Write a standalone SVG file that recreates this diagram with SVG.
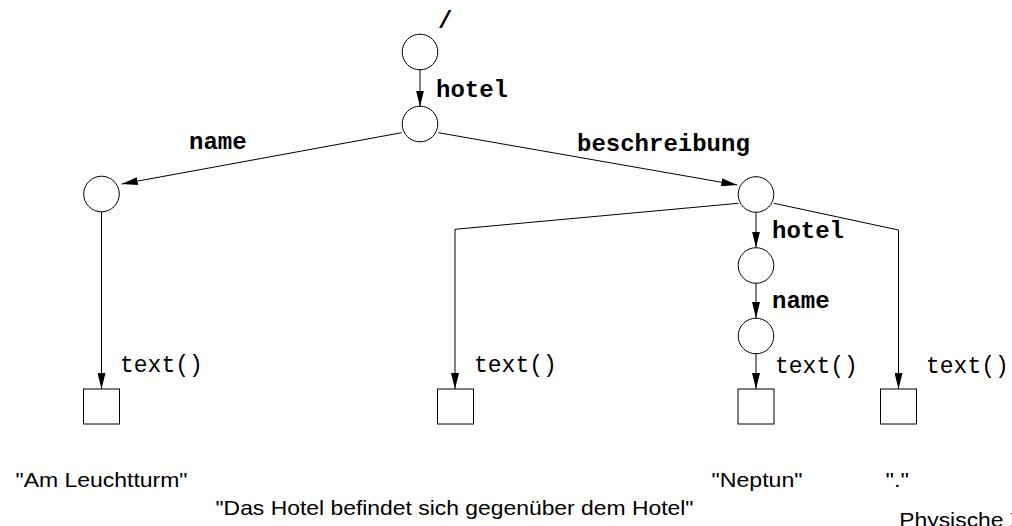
<svg xmlns="http://www.w3.org/2000/svg" width="1012" height="526" viewBox="0 0 1012 526">
  <style>
    .node { fill: #fff; stroke: #000; stroke-width: 1; }
    .edge { fill: none; stroke: #000; stroke-width: 1; }
    .step { font-family: "Liberation Mono", "Courier New", monospace; font-weight: bold; font-size: 24px; fill: #000; }
    .fn { font-family: "Liberation Mono", "Courier New", monospace; font-size: 23px; fill: #000; }
    .val { font-family: "Liberation Sans", Arial, sans-serif; font-size: 21px; fill: #000; }
  </style>
  <defs>
    <marker id="arrow" markerUnits="userSpaceOnUse" markerWidth="16" markerHeight="8" refX="16" refY="4" orient="auto">
      <path d="M0,0 L16,4 L0,8 z" fill="#000"/>
    </marker>
  </defs>

  <!-- connectors -->
  <g id="connectors" class="edge" marker-end="url(#arrow)">
    <line x1="420" y1="70" x2="420" y2="106.5"/>
    <line x1="401.7" y1="132.7" x2="121.7" y2="184"/>
    <line x1="438.3" y1="132.7" x2="737.3" y2="185"/>
    <line x1="101.5" y1="212" x2="101.5" y2="389"/>
    <polyline points="738.3,203.3 455,229.3 455,389"/>
    <polyline points="774,203.3 898.5,230 898.5,389"/>
    <line x1="756" y1="212.5" x2="756" y2="247.5"/>
    <line x1="756" y1="283.5" x2="756" y2="318"/>
    <line x1="756" y1="354" x2="756" y2="389"/>
  </g>

  <!-- element nodes -->
  <g id="root"><circle class="node" cx="420" cy="52" r="17.8"/></g>
  <g id="hotel"><circle class="node" cx="420" cy="124" r="17.8"/></g>
  <g id="name"><circle class="node" cx="101.5" cy="194" r="17.8"/></g>
  <g id="beschreibung"><circle class="node" cx="756" cy="194.5" r="17.8"/></g>
  <g id="hotel-inner"><circle class="node" cx="756" cy="265.5" r="17.8"/></g>
  <g id="name-inner"><circle class="node" cx="756" cy="336" r="17.8"/></g>

  <!-- text nodes -->
  <g id="text-1"><rect class="node" x="83.5" y="389" width="36" height="35"/></g>
  <g id="text-2"><rect class="node" x="437.5" y="389" width="36" height="35"/></g>
  <g id="text-3"><rect class="node" x="738" y="389" width="36" height="35"/></g>
  <g id="text-4"><rect class="node" x="880.5" y="389" width="36" height="35"/></g>

  <!-- step labels -->
  <g id="labels">
    <text class="step" x="438" y="28">/</text>
    <text class="step" x="436" y="97">hotel</text>
    <text class="step" x="189" y="149">name</text>
    <text class="step" x="577" y="151">beschreibung</text>
    <text class="step" x="772" y="238">hotel</text>
    <text class="step" x="772" y="308">name</text>
    <text class="fn" x="120" y="372">text()</text>
    <text class="fn" x="474" y="372">text()</text>
    <text class="fn" x="775" y="372.5">text()</text>
    <text class="fn" x="926" y="372.5">text()</text>
  </g>

  <!-- string values -->
  <g id="values">
    <text class="val" x="15.5" y="487" textLength="172" lengthAdjust="spacingAndGlyphs">"Am Leuchtturm"</text>
    <text class="val" x="215.5" y="515" textLength="478" lengthAdjust="spacingAndGlyphs">"Das Hotel befindet sich gegenüber dem Hotel"</text>
    <text class="val" x="711.5" y="487" textLength="91" lengthAdjust="spacingAndGlyphs">"Neptun"</text>
    <text class="val" x="885.5" y="487" textLength="23.5" lengthAdjust="spacingAndGlyphs">"."</text>
    <!-- caption runs off the right edge -->
    <text class="val" x="825" y="527" transform="scale(1.09 1)">Physische X</text>
  </g>
</svg>
